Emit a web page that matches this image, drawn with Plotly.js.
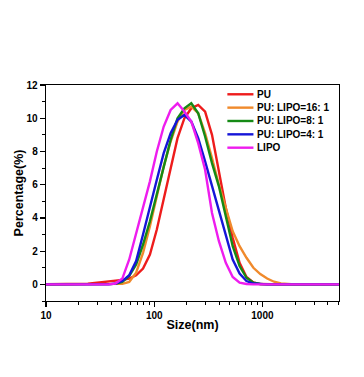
<!DOCTYPE html>
<html>
<head>
<meta charset="utf-8">
<script src="https://cdn.plot.ly/plotly-3.0.1.min.js"></script>
<style>html,body{margin:0;padding:0;background:#fff;}#chart{width:364px;height:377px;}</style>
</head>
<body>
<div id="chart"></div>
<script>
const sizes = [8.721, 10.1, 11.7, 13.54, 15.69, 18.17, 21.04, 24.36, 28.21, 32.67, 37.84, 43.82, 50.75, 58.77, 68.06, 78.82, 91.28, 105.7, 122.4, 141.8, 164.2, 190.1, 220.2, 255.0, 295.3, 342.0, 396.1, 458.7, 531.2, 615.1, 712.4, 825.0, 955.4, 1106, 1281, 1484, 1718, 1990, 2305, 2669, 3091, 3580, 4145, 4801, 5560];
const pu      = [0, 0, 0, 0, 0, 0, 0.01, 0.04, 0.08, 0.12, 0.17, 0.22, 0.27, 0.35, 0.55, 0.95, 1.8, 3.3, 5.2, 7.1, 8.8, 10.0, 10.6, 10.8, 10.4, 9.0, 6.8, 4.6, 2.8, 1.3, 0.45, 0.12, 0.02, 0, 0, 0, 0, 0, 0, 0, 0, 0, 0, 0, 0];
const pu16    = [0, 0, 0, 0, 0, 0, 0, 0, 0, 0, 0, 0, 0.03, 0.15, 0.7, 1.9, 3.5, 5.3, 7.1, 8.6, 9.8, 10.5, 10.7, 10.3, 9.1, 7.6, 6.0, 4.6, 3.2, 2.3, 1.6, 1.0, 0.62, 0.35, 0.16, 0.06, 0.02, 0, 0, 0, 0, 0, 0, 0, 0];
const pu8     = [0, 0, 0, 0, 0, 0, 0, 0, 0, 0, 0, 0.03, 0.15, 0.5, 1.2, 2.4, 3.8, 5.4, 7.1, 8.7, 10.0, 10.6, 10.9, 10.3, 8.9, 7.3, 5.9, 4.0, 2.3, 1.1, 0.4, 0.1, 0.02, 0, 0, 0, 0, 0, 0, 0, 0, 0, 0, 0, 0];
const pu4     = [0, 0, 0, 0, 0, 0, 0, 0, 0, 0, 0, 0.05, 0.2, 0.55, 1.4, 3.0, 4.7, 6.3, 7.9, 9.1, 9.9, 10.2, 9.8, 8.8, 7.4, 5.9, 4.4, 2.9, 1.5, 0.65, 0.2, 0.05, 0.01, 0, 0, 0, 0, 0, 0, 0, 0, 0, 0, 0, 0];
const lipo    = [0, 0, 0, 0, 0, 0, 0, 0, 0, 0, 0, 0.05, 0.35, 1.5, 3.1, 4.7, 6.2, 8.0, 9.5, 10.5, 10.9, 10.4, 9.8, 8.5, 6.9, 4.3, 2.6, 1.3, 0.45, 0.1, 0.02, 0, 0, 0, 0, 0, 0, 0, 0, 0, 0, 0, 0, 0, 0];
const names   = ["PU", "PU: LIPO=16: 1", "PU: LIPO=8: 1", "PU: LIPO=4: 1", "LIPO"];
const colors  = ["#ee1c1c", "#f08a2c", "#158a15", "#1515d8", "#ee1cee"];
const series  = [pu, pu16, pu8, pu4, lipo];

const FONT = "Liberation Sans, Arial, sans-serif";
const traces = series.map((v, i) => ({
  x: sizes, y: v, name: names[i], type: "scatter", mode: "lines",
  line: {color: colors[i], width: 2.4}
}));

// compact legend (line sample + label), in paper coordinates
const legTop = 0.957, legStep = 0.0618;
const shapes = names.map((n, i) => ({
  type: "line", xref: "paper", yref: "paper",
  x0: 0.619, x1: 0.708, y0: legTop - i * legStep, y1: legTop - i * legStep,
  line: {color: colors[i], width: 2.4}
}));
const annotations = names.map((n, i) => ({
  text: n, xref: "paper", yref: "paper", x: 0.712, y: legTop - i * legStep,
  xanchor: "left", yanchor: "middle", showarrow: false,
  font: {family: FONT, size: 10, weight: "bold", color: "#000"}
}));

const layout = {
  width: 364, height: 377,
  margin: {l: 46, r: 25, t: 85, b: 76},
  paper_bgcolor: "#fff", plot_bgcolor: "#fff",
  font: {family: FONT, color: "#000", size: 10, weight: "bold"},
  showlegend: false,
  shapes: shapes, annotations: annotations,
  xaxis: {
    type: "log", range: [1, Math.log10(5100)],
    showline: true, linecolor: "#000", linewidth: 1.3, mirror: true,
    ticks: "outside", ticklen: 5, tickwidth: 1.2, tickcolor: "#000",
    tickvals: [10, 100, 1000], ticktext: ["10", "100", "1000"],
    minor: {ticks: "outside", ticklen: 3, tickwidth: 1, tickcolor: "#000", dtick: "D1", showgrid: false},
    showgrid: false, zeroline: false,
    tickfont: {family: FONT, size: 10, weight: "bold"},
    title: {text: "Size(nm)", font: {family: FONT, size: 12.5, weight: "bold"}, standoff: 0}
  },
  yaxis: {
    range: [-1, 12],
    showline: true, linecolor: "#000", linewidth: 1.3, mirror: true,
    ticks: "outside", ticklen: 5, tickwidth: 1.2, tickcolor: "#000",
    dtick: 2, tick0: 0,
    minor: {ticks: "outside", ticklen: 3, tickwidth: 1, tickcolor: "#000", dtick: 1, showgrid: false},
    showgrid: false, zeroline: false,
    tickfont: {family: FONT, size: 10, weight: "bold"},
    title: {text: "Percentage(%)", font: {family: FONT, size: 12.5, weight: "bold"}, standoff: 0}
  }
};

Plotly.newPlot("chart", traces, layout, {displayModeBar: false, staticPlot: true});
</script>
</body>
</html>
